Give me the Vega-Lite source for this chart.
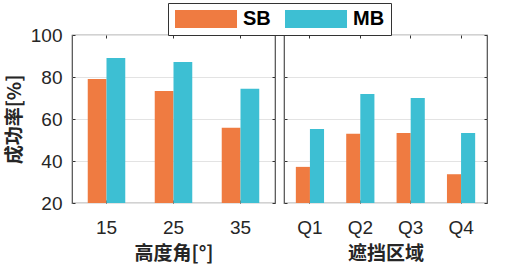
{
  "$schema": "https://vega.github.io/schema/vega-lite/v6.json",
  "padding": {"left": 4, "top": 2, "right": 5, "bottom": 0},
  "background": "white",
  "datasets": {
    "angle": [
      {"cat": "15", "series": "SB", "rate": 79},
      {"cat": "15", "series": "MB", "rate": 89},
      {"cat": "25", "series": "SB", "rate": 73.3},
      {"cat": "25", "series": "MB", "rate": 87.2},
      {"cat": "35", "series": "SB", "rate": 55.8},
      {"cat": "35", "series": "MB", "rate": 74.4}
    ],
    "region": [
      {"cat": "Q1", "series": "SB", "rate": 37.2},
      {"cat": "Q1", "series": "MB", "rate": 55.2},
      {"cat": "Q2", "series": "SB", "rate": 53},
      {"cat": "Q2", "series": "MB", "rate": 71.9},
      {"cat": "Q3", "series": "SB", "rate": 53.3},
      {"cat": "Q3", "series": "MB", "rate": 70},
      {"cat": "Q4", "series": "SB", "rate": 33.7},
      {"cat": "Q4", "series": "MB", "rate": 53.3}
    ]
  },
  "spacing": 5,
  "resolve": {"scale": {"color": "shared", "xOffset": "independent"}},
  "hconcat": [
    {
      "width": 203,
      "height": 168,
      "data": {"name": "angle"},
      "layer": [
        {
          "mark": {"type": "bar"},
          "encoding": {
            "x": {"field": "cat", "type": "nominal", "sort": ["15", "25", "35"],
                  "scale": {"paddingInner": 0.44, "paddingOuter": 0.235},
                  "axis": {"title": "高度角[°]", "orient": "bottom", "labels": true}},
            "xOffset": {"field": "series", "type": "nominal", "sort": ["SB", "MB"],
                        "scale": {"paddingInner": 0, "paddingOuter": 0}},
            "y": {"field": "rate", "type": "quantitative",
                  "scale": {"domain": [20, 100], "nice": false, "zero": false},
                  "axis": {"title": "成功率[%]", "values": [20, 40, 60, 80, 100], "grid": true, "orient": "left", "labels": true}},
            "y2": {"datum": 20},
            "color": {"field": "series", "type": "nominal",
                      "scale": {"domain": ["SB", "MB"], "range": ["#EF7B41", "#3DBFD3"]},
                      "legend": {"orient": "none", "legendX": 96, "legendY": -32, "direction": "horizontal", "title": null}}
          }
        },
        {
          "mark": {"type": "bar", "opacity": 0},
          "encoding": {
            "x": {"field": "cat", "type": "nominal", "sort": ["15", "25", "35"],
                  "scale": {"paddingInner": 0.44, "paddingOuter": 0.235},
                  "axis": {"orient": "top", "labels": false, "title": null, "grid": false}},
            "xOffset": {"field": "series", "type": "nominal", "sort": ["SB", "MB"],
                        "scale": {"paddingInner": 0, "paddingOuter": 0}},
            "y": {"field": "rate", "type": "quantitative",
                  "scale": {"domain": [20, 100], "nice": false, "zero": false},
                  "axis": {"orient": "right", "labels": false, "title": null, "grid": false, "values": [20, 40, 60, 80, 100]}},
            "y2": {"datum": 20}
          }
        }
      ],
      "resolve": {"axis": {"x": "independent", "y": "independent"}}
    },
    {
      "width": 203,
      "height": 168,
      "data": {"name": "region"},
      "layer": [
        {
          "mark": {"type": "bar"},
          "encoding": {
            "x": {"field": "cat", "type": "nominal", "sort": ["Q1", "Q2", "Q3", "Q4"],
                  "scale": {"paddingInner": 0.44, "paddingOuter": 0.235},
                  "axis": {"title": "遮挡区域", "orient": "bottom", "labels": true}},
            "xOffset": {"field": "series", "type": "nominal", "sort": ["SB", "MB"],
                        "scale": {"paddingInner": 0, "paddingOuter": 0}},
            "y": {"field": "rate", "type": "quantitative",
                  "scale": {"domain": [20, 100], "nice": false, "zero": false},
                  "axis": {"title": null, "labels": false, "values": [20, 40, 60, 80, 100], "grid": true, "orient": "left"}},
            "y2": {"datum": 20},
            "color": {"field": "series", "type": "nominal",
                      "scale": {"domain": ["SB", "MB"], "range": ["#EF7B41", "#3DBFD3"]}}
          }
        },
        {
          "mark": {"type": "bar", "opacity": 0},
          "encoding": {
            "x": {"field": "cat", "type": "nominal", "sort": ["Q1", "Q2", "Q3", "Q4"],
                  "scale": {"paddingInner": 0.44, "paddingOuter": 0.235},
                  "axis": {"orient": "top", "labels": false, "title": null, "grid": false}},
            "xOffset": {"field": "series", "type": "nominal", "sort": ["SB", "MB"],
                        "scale": {"paddingInner": 0, "paddingOuter": 0}},
            "y": {"field": "rate", "type": "quantitative",
                  "scale": {"domain": [20, 100], "nice": false, "zero": false},
                  "axis": {"orient": "right", "labels": false, "title": null, "grid": false, "values": [20, 40, 60, 80, 100]}},
            "y2": {"datum": 20}
          }
        }
      ],
      "resolve": {"axis": {"x": "independent", "y": "independent"}}
    }
  ],
  "config": {
    "view": {"stroke": "#4d4d4d", "strokeWidth": 1.2},
    "axis": {
      "domain": false,
      "ticks": true,
      "tickSize": -3,
      "tickColor": "#333333",
      "tickWidth": 1,
      "gridColor": "#e3e3e3",
      "gridWidth": 1,
      "labelFont": "Liberation Sans",
      "labelFontSize": 19,
      "labelColor": "#262626",
      "titleFont": "Noto Sans CJK SC",
      "titleFontSize": 19,
      "titleFontWeight": "bold",
      "titleColor": "#262626"
    },
    "axisX": {"labelAngle": 0, "labelPadding": 18, "titlePadding": 7},
    "axisY": {"labelPadding": 13, "titlePadding": 6},
    "legend": {
      "symbolType": "M-1,-1h6.89v2h-6.89z",
      "symbolSize": 324,
      "symbolStrokeWidth": 0,
      "symbolOpacity": 1,
      "labelFont": "Liberation Sans",
      "labelFontSize": 20,
      "labelFontWeight": "bold",
      "labelColor": "#000000",
      "labelOffset": 49,
      "columnPadding": 13,
      "strokeColor": "#333333",
      "padding": 6,
      "fillColor": "white"
    }
  }
}
